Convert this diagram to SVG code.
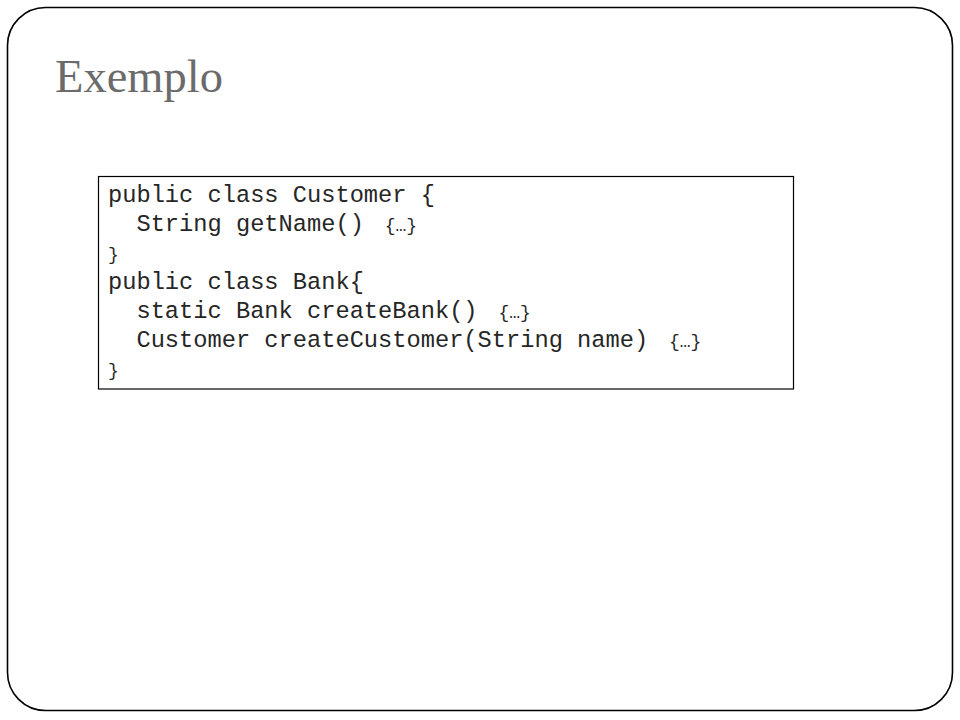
<svg xmlns="http://www.w3.org/2000/svg" width="960" height="720" viewBox="0 0 960 720">
<style>
.code{font-family:"Liberation Mono","Courier New",monospace;font-size:23.7px;fill:#262626;}
.sm{font-size:18px;}
.title{font-family:"Liberation Serif","Times New Roman",serif;font-size:46.5px;fill:#6b6b6b;}
</style>
<rect x="0" y="0" width="960" height="720" fill="#ffffff"/>
<g id="frame">
<rect x="7.5" y="7.5" width="945" height="703" rx="38" ry="38" fill="none" stroke="#000" stroke-width="1.6"/>
</g>
<g id="title">
<text class="title" x="55" y="92">Exemplo</text>
</g>
<g id="codebox">
<rect x="98.5" y="176.5" width="695" height="212.5" fill="#ffffff" stroke="#000" stroke-width="1.2"/>
<text class="code" x="108" y="202" xml:space="preserve">public class Customer {</text>
<text class="code" x="108" y="231" xml:space="preserve">  String getName()<tspan class="sm" dx="10"> {…}</tspan></text>
<text class="code" x="108" y="260" xml:space="preserve"><tspan class="sm">}</tspan></text>
<text class="code" x="108" y="289" xml:space="preserve">public class Bank{</text>
<text class="code" x="108" y="318" xml:space="preserve">  static Bank createBank()<tspan class="sm" dx="10"> {…}</tspan></text>
<text class="code" x="108" y="347" xml:space="preserve">  Customer createCustomer(String name)<tspan class="sm" dx="10"> {…}</tspan></text>
<text class="code" x="108" y="376" xml:space="preserve"><tspan class="sm">}</tspan></text>
</g>
<g id="connectors"/>
</svg>
